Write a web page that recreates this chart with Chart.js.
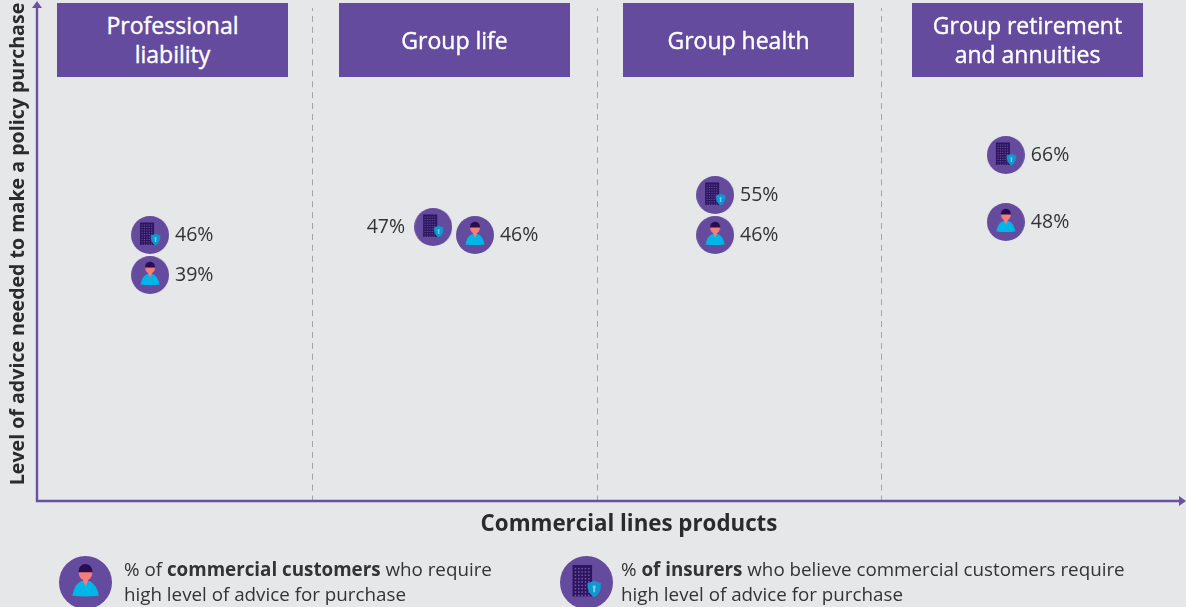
<!DOCTYPE html>
<html lang="en">
<head>
    <meta charset="UTF-8">
    <title>Commercial lines products</title>
    <script src="https://cdn.jsdelivr.net/npm/chart.js"></script>
    <style>
        body { margin: 0; background: #e6e7e9; font-family: "Open Sans", sans-serif; color: #333; }
        #wrap { position: relative; width: 1186px; height: 607px; overflow: hidden; }
        canvas { display: block; }
        .head {
            position: absolute; top: 3px; height: 74px; width: 231px;
            background: #654b9e; color: #fff; font-size: 23px; line-height: 29px;
            -webkit-text-stroke: 0.4px #fff;
            display: flex; align-items: center; justify-content: center; text-align: center;
        }
        .key { position: absolute; top: 557px; font-size: 18.8px; line-height: 25px; white-space: nowrap; }
        .key b { font-weight: 700; }
        .keyIcon { position: absolute; top: 556px; }
    </style>
</head>
<body>
<div id="wrap">
    <canvas id="chart" width="1186" height="607"></canvas>
    <div class="head" style="left:57px">Professional<br>liability</div>
    <div class="head" style="left:339px">Group life</div>
    <div class="head" style="left:623px">Group health</div>
    <div class="head" style="left:912px">Group retirement<br>and annuities</div>
    <canvas class="keyIcon" id="keyCustomer" width="53" height="53" style="left:59px"></canvas>
    <div class="key" style="left:124px">% of <b>commercial customers</b> who require<br>high level of advice for purchase</div>
    <canvas class="keyIcon" id="keyInsurer" width="53" height="53" style="left:560px"></canvas>
    <div class="key" style="left:621px">% <b>of insurers</b> who believe commercial customers require<br>high level of advice for purchase</div>
</div>

<script>
    // data
    const categories = ["Professional liability", "Group life", "Group health", "Group retirement and annuities"];
    const customerShare = [39, 46, 46, 48];
    const insurerShare = [46, 47, 55, 66];

    const purple = "#654b9e";
    const ink = "#333333";

    // the vertical axis of the original is schematic, not linear: equal gaps in % are not equal gaps in height
    const schematicValues = [0, 39, 46, 47, 48, 55, 66, 100];
    const schematicHeights = [0, 0.4584, 0.5396, 0.5558, 0.566, 0.6207, 0.7019, 1];

    class SchematicScale extends Chart.LinearScale {
        static id = "schematic";
        static defaults = {};
        getPixelForValue(v) {
            for (let i = 1; i < schematicValues.length; i++) {
                if (v <= schematicValues[i]) {
                    const a = schematicValues[i - 1], b = schematicValues[i];
                    const h = schematicHeights[i - 1] + (v - a) / (b - a) * (schematicHeights[i] - schematicHeights[i - 1]);
                    return this.getPixelForDecimal(h);
                }
            }
            return this.getPixelForDecimal(1);
        }
    }
    Chart.register(SchematicScale);

    // icons, drawn on a 38 unit circle and scaled to size
    function drawIcon(kind, size) {
        const c = document.createElement("canvas");
        c.width = c.height = size;
        paintIcon(c.getContext("2d"), kind, size);
        return c;
    }

    function paintIcon(g, kind, size) {
        g.save();
        g.scale(size / 38, size / 38);
        g.fillStyle = purple;
        g.beginPath();
        g.arc(19, 19, 19, 0, Math.PI * 2);
        g.fill();
        if (kind === "customer") {
            g.fillStyle = "#00b5e8";
            g.beginPath();
            g.moveTo(9.5, 28.5);
            g.quadraticCurveTo(11, 20, 16, 18);
            g.lineTo(22, 18);
            g.quadraticCurveTo(27.5, 21, 28.5, 28.5);
            g.quadraticCurveTo(19, 29.5, 9.5, 28.5);
            g.fill();
            g.fillStyle = "#f47f7a";
            g.beginPath();
            g.moveTo(16.5, 16);
            g.lineTo(21.5, 16);
            g.lineTo(19, 22);
            g.closePath();
            g.fill();
            g.beginPath();
            g.arc(19, 12.5, 4.8, 0, Math.PI * 2);
            g.fill();
            g.fillStyle = "#2a0f4f";
            g.beginPath();
            g.arc(19, 10.6, 4.9, Math.PI, 0);
            g.lineTo(23.9, 11.6);
            g.lineTo(14.1, 11.6);
            g.closePath();
            g.fill();
        } else {
            g.fillStyle = "#2d1460";
            g.fillRect(9, 6.5, 14, 22.5);
            g.fillStyle = "#6f58a4";
            for (let x = 10.5; x < 22; x += 2.4) {
                for (let y = 8.5; y < 28; y += 2.4) g.fillRect(x, y, 1.1, 1.1);
            }
            g.fillStyle = "#0f97d0";
            g.beginPath();
            g.moveTo(24.5, 17.8);
            g.lineTo(29.3, 19.6);
            g.quadraticCurveTo(29.8, 26.5, 24.5, 29.6);
            g.quadraticCurveTo(19.2, 26.5, 19.7, 19.6);
            g.closePath();
            g.fill();
            g.fillStyle = "#6fd0ef";
            g.beginPath();
            g.arc(24.5, 22, 1.1, 0, Math.PI * 2);
            g.fill();
            g.fillRect(23.8, 22.5, 1.4, 3.5);
        }
        g.restore();
    }

    const customerIcon = drawIcon("customer", 38);
    const insurerIcon = drawIcon("insurer", 38);
    paintIcon(document.getElementById("keyCustomer").getContext("2d"), "customer", 53);
    paintIcon(document.getElementById("keyInsurer").getContext("2d"), "insurer", 53);

    // marks sit left of the column centre, with the % on their right;
    // only Group life splits them to either side because the values nearly coincide
    const markShift = [-0.071, -0.076, -0.085, -0.063];
    const customerPoints = customerShare.map((v, i) => ({ x: i + 0.5 + (i === 1 ? 0.071 : markShift[i]), y: v }));
    const insurerPoints = insurerShare.map((v, i) => ({ x: i + 0.5 + markShift[i], y: v }));

    const decor = {
        id: "decor",
        beforeDatasetsDraw(chart) {
            const g = chart.ctx;
            const left = 37, bottom = chart.chartArea.bottom, top = 2;
            g.save();
            g.strokeStyle = "#6a50a3";
            g.fillStyle = "#6a50a3";
            g.lineWidth = 2.4;
            g.beginPath();
            g.moveTo(left, top + 4);
            g.lineTo(left, bottom);
            g.lineTo(1180, bottom);
            g.stroke();
            g.beginPath();
            g.moveTo(left, top - 1);
            g.lineTo(left - 5, top + 6);
            g.lineTo(left + 5, top + 6);
            g.closePath();
            g.fill();
            g.beginPath();
            g.moveTo(1186, bottom);
            g.lineTo(1179, bottom - 5);
            g.lineTo(1179, bottom + 5);
            g.closePath();
            g.fill();

            g.fillStyle = "#2b2b2b";
            g.textAlign = "center";
            g.textBaseline = "middle";
            g.font = "700 22.3px 'Open Sans'";
            g.fillText("Commercial lines products", 629, 525);
            g.translate(18, 244);
            g.rotate(-Math.PI / 2);
            g.font = "700 19.6px 'Open Sans'";
            g.fillText("Level of advice needed to make a policy purchase", 0, 0);
            g.restore();
        },
        afterDatasetsDraw(chart) {
            const g = chart.ctx;
            g.save();
            g.fillStyle = ink;
            g.font = "19.5px 'Open Sans'";
            g.textBaseline = "middle";
            chart.data.datasets.forEach((ds, d) => {
                chart.getDatasetMeta(d).data.forEach((pt, i) => {
                    const toLeft = d === 1 && i === 1;
                    g.textAlign = toLeft ? "right" : "left";
                    g.fillText(ds.data[i].y + "%", pt.x + (toLeft ? -28 : 25), pt.y);
                });
            });
            g.restore();
        }
    };

    new Chart(document.getElementById("chart"), {
        type: "scatter",
        data: {
            datasets: [
                { label: "% of commercial customers", data: customerPoints, pointStyle: customerIcon },
                { label: "% of insurers", data: insurerPoints, pointStyle: insurerIcon }
            ]
        },
        options: {
            responsive: false,
            animation: false,
            events: [],
            layout: { padding: { left: 28, right: 20, top: 8, bottom: 106 } },
            plugins: { legend: { display: false }, tooltip: { enabled: false } },
            scales: {
                x: {
                    type: "linear",
                    min: 0,
                    max: categories.length,
                    border: { display: false, dash: [6, 4.9], dashOffset: 3 },
                    ticks: { display: false, stepSize: 1 },
                    grid: {
                        drawTicks: false,
                        lineWidth: 1,
                        color: c => (c.tick.value > 0 && c.tick.value < categories.length) ? "#a3a4a7" : "transparent"
                    }
                },
                y: {
                    type: "schematic",
                    min: 0,
                    max: 100,
                    display: false
                }
            }
        },
        plugins: [decor]
    });
</script>
</body>
</html>
